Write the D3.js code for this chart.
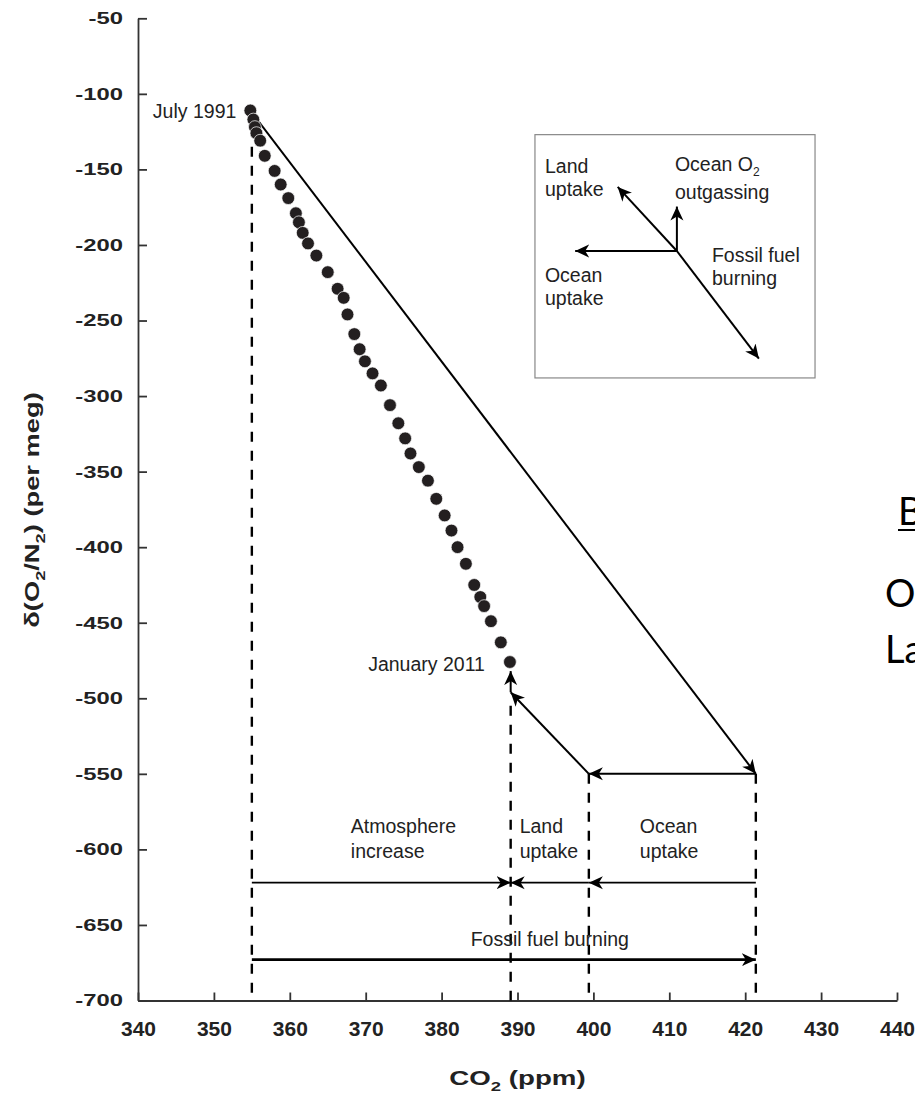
<!DOCTYPE html>
<html>
<head>
<meta charset="utf-8">
<script src="https://cdn.jsdelivr.net/npm/d3@7"></script>
<style>
body { margin: 0; background: #fff; }
svg { display: block; }
.ann { font-family: "Liberation Sans", Arial, sans-serif; font-size: 19.5px; fill: #222; }
.axis text { font-family: "Liberation Sans", Arial, sans-serif; font-weight: bold; font-size: 17px; fill: #222; }
.x.axis text { font-size: 21px; }
.axis path, .axis line { stroke: #333; stroke-width: 1.8; }
.title { font-family: "Liberation Sans", Arial, sans-serif; font-weight: bold; font-size: 19.5px; fill: #222; }
.side { font-family: Lato, "Open Sans", sans-serif; font-size: 38px; fill: #000; }
</style>
</head>
<body>
<div id="chart"></div>
<script>
// record from July 1991 to January 2011
var co2 = [354.8, 355.2, 355.4, 355.6, 356.1, 356.7, 358.0, 358.8, 359.8, 360.8,
           361.2, 361.7, 362.4, 363.5, 365.0, 366.3, 367.1, 367.6, 368.5, 369.2,
           369.9, 370.9, 372.0, 373.2, 374.3, 375.2, 375.9, 377.0, 378.2, 379.3,
           380.4, 381.3, 382.1, 383.2, 384.3, 385.1, 385.6, 386.5, 387.8, 389.0];
var dO2 = [-111, -117, -122, -126, -131, -141, -151, -160, -169, -179,
           -185, -192, -199, -207, -218, -229, -235, -246, -259, -269,
           -277, -285, -293, -306, -318, -328, -338, -347, -356, -368,
           -379, -389, -400, -411, -425, -433, -439, -449, -463, -476];

var xTicks = [340, 350, 360, 370, 380, 390, 400, 410, 420, 430, 440];
var yTicks = [-50, -100, -150, -200, -250, -300, -350, -400, -450, -500, -550, -600, -650, -700];

// budget construction (CO2 ppm / per meg)
var budgetCO2 = [355, 389.1, 399.4, 421.4];     // start, atmosphere, land, fossil
var budgetTopO2 = [-135, -505, -550, -550];     // where dashed guides begin
var budgetO2 = [-550, -496, -482];              // fossil end, land end, outgassing end
var budgetRowO2 = [-622, -673];                 // partition row, fossil row
var budgetNames = [["Atmosphere", "increase"], ["Land", "uptake"], ["Ocean", "uptake"]];

// inset: vectors relative to its origin (ppm, per meg)
var insetOrigin = [411.0, -204];
var insetBox = [[392.3, -127], [429.2, -288]];
var insetDx = [-7.8, 0, -13.4, 10.8];
var insetDy = [42.4, 29.4, 0, -71.2];

var W = 915, H = 1097;
var svg = d3.select("#chart").append("svg").attr("width", W).attr("height", H);

var x = d3.scaleLinear().domain([340, 440]).range([138, 897]);
var y = d3.scaleLinear().domain([-50, -700]).range([18.3, 1000.5]);

var defs = svg.append("defs");
defs.append("marker")
    .attr("id", "head")
    .attr("viewBox", "-14 -7 15 14")
    .attr("refX", 0).attr("refY", 0)
    .attr("markerWidth", 15).attr("markerHeight", 14)
    .attr("markerUnits", "userSpaceOnUse")
    .attr("orient", "auto")
    .append("path")
    .attr("d", "M0,0L-14,-6.5L-10,0L-14,6.5Z")
    .attr("fill", "#000");

function arrow(g, p1, p2, w) {
    return g.append("line")
        .attr("x1", p1[0]).attr("y1", p1[1])
        .attr("x2", p2[0]).attr("y2", p2[1])
        .attr("stroke", "#000").attr("stroke-width", w || 2)
        .attr("marker-end", "url(#head)");
}

// the figure's bold lettering is a wide face: stretch it
function widen(sel, k) {
    sel.each(function () {
        var w = this.getComputedTextLength();
        d3.select(this).attr("textLength", w * k).attr("lengthAdjust", "spacingAndGlyphs");
    });
}

// axes
var xAxis = svg.append("g").attr("class", "x axis")
    .attr("transform", "translate(0," + y(-700) + ")")
    .call(d3.axisBottom(x).tickValues(xTicks).tickFormat(String)
        .tickSizeInner(-8).tickSizeOuter(0).tickPadding(21));
var yAxis = svg.append("g").attr("class", "y axis")
    .attr("transform", "translate(" + x(340) + ",0)")
    .call(d3.axisLeft(y).tickValues(yTicks).tickFormat(String)
        .tickSizeInner(-9).tickSizeOuter(0).tickPadding(15));
widen(yAxis.selectAll("text"), 1.4);

var xt = svg.append("text").attr("class", "title")
    .attr("x", (x(340) + x(440)) / 2).attr("y", 1085).attr("text-anchor", "middle");
xt.append("tspan").text("CO");
xt.append("tspan").attr("dy", 6).attr("font-size", "13px").text("2");
xt.append("tspan").attr("dy", -6).text(" (ppm)");
widen(xt, 1.42);

var yt = svg.append("text").attr("class", "title")
    .attr("transform", "translate(39,510) rotate(-90)")
    .attr("text-anchor", "middle");
yt.append("tspan").text("δ(O");
yt.append("tspan").attr("dy", 6).attr("font-size", "13px").text("2");
yt.append("tspan").attr("dy", -6).text("/N");
yt.append("tspan").attr("dy", 6).attr("font-size", "13px").text("2");
yt.append("tspan").attr("dy", -6).text(") (per meg)");
widen(yt, 1.4);

// dashed guides
var plot = svg.append("g");
plot.selectAll("line.guide").data(budgetCO2).enter().append("line")
    .attr("class", "guide")
    .attr("x1", function (d) { return x(d); })
    .attr("x2", function (d) { return x(d); })
    .attr("y1", function (d, i) { return y(budgetTopO2[i]); })
    .attr("y2", y(-700))
    .attr("stroke", "#000").attr("stroke-width", 2.4)
    .attr("stroke-dasharray", "10,9");

// fossil fuel vector from July 1991
arrow(plot, [x(co2[0]), y(dO2[0])], [x(budgetCO2[3]), y(budgetO2[0])], 2);
// ocean uptake
arrow(plot, [x(budgetCO2[3]), y(budgetO2[0])], [x(budgetCO2[2]), y(budgetO2[0])], 2);
// land uptake
arrow(plot, [x(budgetCO2[2]), y(budgetO2[0])], [x(budgetCO2[1]), y(budgetO2[1])], 2);
// ocean O2 outgassing
arrow(plot, [x(budgetCO2[1]), y(budgetO2[1])], [x(budgetCO2[1]), y(budgetO2[2])], 2);

// partition row
arrow(plot, [x(budgetCO2[0]), y(budgetRowO2[0])], [x(budgetCO2[1]), y(budgetRowO2[0])], 1.8);
arrow(plot, [x(budgetCO2[2]), y(budgetRowO2[0])], [x(budgetCO2[1]), y(budgetRowO2[0])], 1.8);
arrow(plot, [x(budgetCO2[3]), y(budgetRowO2[0])], [x(budgetCO2[2]), y(budgetRowO2[0])], 1.8);
// fossil row
arrow(plot, [x(budgetCO2[0]), y(budgetRowO2[1])], [x(budgetCO2[3]), y(budgetRowO2[1])], 2.8);

var nameX = [x(budgetCO2[0]) + 99, x(budgetCO2[1]) + 9, x(budgetCO2[2]) + 51];
budgetNames.forEach(function (n, i) {
    var t = plot.append("text").attr("class", "ann").attr("x", nameX[i]).attr("y", 833);
    t.append("tspan").attr("x", nameX[i]).text(n[0]);
    t.append("tspan").attr("x", nameX[i]).attr("dy", 25).text(n[1]);
});
plot.append("text").attr("class", "ann")
    .attr("x", (x(budgetCO2[0]) + x(budgetCO2[3])) / 2 + 46).attr("y", y(budgetRowO2[1]) - 14)
    .attr("text-anchor", "middle").text("Fossil fuel burning");

// data points
plot.selectAll("circle").data(co2).enter().append("circle")
    .attr("cx", function (d) { return x(d); })
    .attr("cy", function (d, i) { return y(dO2[i]); })
    .attr("r", 6.4)
    .attr("fill", "#231f20")
    .attr("stroke", "#fff").attr("stroke-width", 0.7);

var last = co2.length - 1;
plot.append("text").attr("class", "ann").attr("text-anchor", "end")
    .attr("x", x(co2[0]) - 14).attr("y", y(dO2[0]) + 8).text("July 1991");
plot.append("text").attr("class", "ann").attr("text-anchor", "end")
    .attr("x", x(co2[last]) - 25).attr("y", y(dO2[last]) + 9).text("January 2011");

// inset diagram
var inset = svg.append("g");
inset.append("rect")
    .attr("x", x(insetBox[0][0])).attr("y", y(insetBox[0][1]))
    .attr("width", x(insetBox[1][0]) - x(insetBox[0][0]))
    .attr("height", y(insetBox[1][1]) - y(insetBox[0][1]))
    .attr("fill", "none").attr("stroke", "#888").attr("stroke-width", 1.2);
var o = [x(insetOrigin[0]), y(insetOrigin[1])];
insetDx.forEach(function (dx, i) {
    arrow(inset, o, [x(insetOrigin[0] + dx), y(insetOrigin[1] + insetDy[i])], 2);
});
var bx = x(insetBox[0][0]), by = y(insetBox[0][1]);
function insetLabel(px, py, lines) {
    var t = inset.append("text").attr("class", "ann").attr("x", px).attr("y", py);
    lines.forEach(function (l, i) {
        var s = t.append("tspan").attr("x", px).attr("dy", i ? 23 : 0);
        if (l === "Ocean O2") {
            s.text("Ocean O");
            t.append("tspan").attr("dy", 5).attr("font-size", "12px").text("2");
            t.append("tspan").attr("dy", -5);
        } else s.text(l);
    });
}
insetLabel(bx + 10, by + 38, ["Land", "uptake"]);
insetLabel(bx + 140, by + 36, ["Ocean O2", "outgassing"]);
insetLabel(bx + 177, by + 127, ["Fossil fuel", "burning"]);
insetLabel(bx + 10, by + 147, ["Ocean", "uptake"]);

// slide text cut off at the right edge
var side = svg.append("g");
side.append("text").attr("class", "side").attr("x", 898).attr("y", 525).text("Budget");
side.append("line").attr("x1", 898).attr("x2", 915).attr("y1", 530).attr("y2", 530)
    .attr("stroke", "#000").attr("stroke-width", 2);
side.append("text").attr("class", "side").attr("x", 885).attr("y", 607).text("Ocean");
side.append("text").attr("class", "side").attr("x", 885).attr("y", 663).text("Land");
</script>
</body>
</html>
